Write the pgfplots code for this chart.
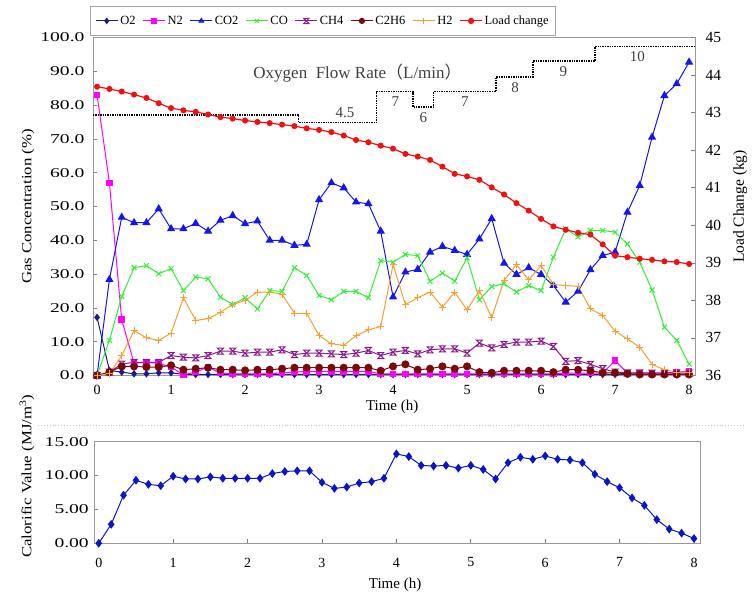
\documentclass[border=0pt]{standalone}
\usepackage{fontspec}
\setmainfont{Liberation Serif}
\newfontfamily\wideA[FakeStretch=1.45]{Liberation Serif}
\newfontfamily\wideB[FakeStretch=1.2]{Liberation Serif}
\newfontfamily\cjk{Noto Sans CJK SC}
\usepackage{pgfplots}
\usepackage{pgfplotstable}
\pgfplotsset{compat=1.18}

\pgfdeclareplotmark{hourglass}{%
 \pgfpathmoveto{\pgfqpoint{-\pgfplotmarksize}{\pgfplotmarksize}}%
 \pgfpathlineto{\pgfqpoint{\pgfplotmarksize}{\pgfplotmarksize}}%
 \pgfpathlineto{\pgfqpoint{-\pgfplotmarksize}{-\pgfplotmarksize}}%
 \pgfpathlineto{\pgfqpoint{\pgfplotmarksize}{-\pgfplotmarksize}}%
 \pgfpathclose
 \pgfusepathqstroke}

\definecolor{cO2}{HTML}{1A1A8C}
\definecolor{cN2}{HTML}{FF00FF}
\definecolor{cCO2}{HTML}{1515F0}
\definecolor{cCO}{HTML}{33EE33}
\definecolor{cCH4}{HTML}{8B1A8B}
\definecolor{cC2H6}{HTML}{7A0A0A}
\definecolor{cH2}{HTML}{F5A030}
\definecolor{cLoad}{HTML}{F01010}
\definecolor{cCal}{HTML}{0A14C8}

\pgfplotsset{
 sO2/.style={cO2, line width=1pt, mark=diamond*, mark size=3pt},
 sN2/.style={cN2, line width=1pt, mark=square*, mark size=2.8pt},
 sCO2/.style={cCO2, line width=1pt, mark=triangle*, mark size=3.8pt},
 sCO/.style={cCO, line width=1pt, mark=x, mark size=3.5pt},
 sCH4/.style={cCH4, line width=1pt, mark=hourglass, mark size=3pt},
 sC2H6/.style={cC2H6, line width=1pt, mark=*, mark size=3.5pt},
 sH2/.style={cH2, line width=1pt, mark=+, mark size=3.5pt},
 sLoad/.style={cLoad, line width=1.2pt, mark=*, mark size=2.4pt},
}

\pgfplotstableread{
t O2 N2 CO2 CO CH4 C2H6 H2 Load
0.000 17.2 83.0 0.0 0.0 0.0 0.0 0.0 43.69
0.167 1.5 57.0 28.4 10.4 1.0 1.0 0.5 43.63
0.333 1.0 16.5 46.8 23.4 3.4 2.7 5.9 43.56
0.500 0.5 3.6 45.2 31.9 3.9 2.7 13.3 43.48
0.667 0.5 3.9 45.2 32.5 3.9 2.5 11.1 43.39
0.833 0.8 3.6 49.3 30.1 3.9 2.5 10.4 43.25
1.000 0.8 2.5 43.4 31.6 5.9 3.0 12.5 43.12
1.167 0.3 0.2 43.4 25.1 5.4 1.7 23.0 43.06
1.333 0.3 1.0 45.0 29.1 5.2 2.0 16.3 43.02
1.500 0.3 2.5 42.7 28.6 5.9 2.3 16.8 42.95
1.667 0.3 0.7 45.9 23.2 7.2 1.7 18.7 42.88
1.833 0.3 0.5 47.3 21.0 7.2 1.7 21.0 42.84
2.000 0.3 0.5 44.9 23.0 6.6 1.5 22.2 42.79
2.167 0.3 0.5 45.7 19.7 6.9 1.7 24.7 42.75
2.333 0.3 0.5 40.0 25.1 6.9 1.7 24.7 42.72
2.500 0.3 0.8 40.0 24.9 7.6 2.0 24.0 42.68
2.667 0.3 1.0 38.5 31.9 6.2 2.3 18.4 42.64
2.833 0.3 1.2 38.8 29.6 6.6 2.3 18.4 42.58
3.000 0.3 1.2 52.0 23.7 6.6 2.3 11.8 42.54
3.167 0.3 1.2 57.0 22.4 6.4 2.3 9.4 42.48
3.333 0.3 1.2 55.5 24.9 6.2 2.3 8.9 42.39
3.500 0.3 1.2 51.3 24.9 6.6 2.3 11.8 42.27
3.667 0.3 1.2 50.8 23.0 7.4 2.3 13.5 42.21
3.833 0.3 0.5 42.7 34.0 5.9 1.4 14.5 42.12
4.000 0.3 0.5 23.2 33.5 6.9 2.7 32.8 42.04
4.167 0.3 0.5 30.6 35.8 7.4 3.3 21.0 41.90
4.333 0.3 0.5 31.4 35.5 6.4 1.7 23.0 41.83
4.500 0.3 0.5 36.5 27.9 7.6 2.0 24.7 41.74
4.667 0.3 0.5 38.2 30.3 7.9 2.7 20.2 41.56
4.833 0.3 0.5 37.0 27.9 7.9 2.0 24.7 41.37
5.000 0.3 0.5 35.8 34.8 6.6 2.7 19.4 41.30
5.167 0.3 0.5 40.4 22.4 9.6 1.0 25.1 41.21
5.333 0.3 0.5 46.4 26.3 8.2 0.8 17.1 41.01
5.500 0.3 0.5 33.2 27.1 9.2 1.4 28.1 40.82
5.667 0.3 0.5 29.9 24.7 9.9 1.4 32.8 40.59
5.833 0.3 0.5 31.9 26.6 9.9 1.4 28.3 40.39
6.000 0.3 0.5 29.9 25.1 10.2 1.4 32.5 40.17
6.167 0.3 0.5 26.6 35.0 8.6 1.0 26.9 39.97
6.333 0.3 0.7 21.7 43.4 4.2 1.7 26.6 39.88
6.500 0.3 0.7 24.9 41.0 4.4 1.7 26.4 39.80
6.667 0.3 0.7 31.3 42.9 3.3 1.4 19.7 39.75
6.833 0.3 0.7 35.5 42.9 2.0 0.8 17.8 39.49
7.000 0.3 4.4 36.5 42.4 1.0 0.8 13.1 39.19
7.167 0.3 0.7 48.3 38.9 0.8 0.5 10.8 39.15
7.333 0.3 0.7 56.2 33.5 0.8 0.3 8.4 39.11
7.500 0.3 0.7 70.5 25.3 0.7 0.3 3.3 39.08
7.667 0.3 0.8 82.8 14.3 0.7 0.3 1.7 39.04
7.833 0.3 1.0 86.3 10.4 0.7 0.3 1.0 39.02
8.000 0.3 1.3 92.7 3.4 0.7 0.3 1.0 38.97
}\gasdata

\pgfplotstableread{
t Cal
0.000 0.0
0.167 2.8
0.333 7.1
0.500 9.3
0.667 8.7
0.833 8.5
1.000 9.9
1.167 9.5
1.333 9.5
1.500 9.8
1.667 9.6
1.833 9.6
2.000 9.6
2.167 9.6
2.333 10.3
2.500 10.6
2.667 10.7
2.833 10.7
3.000 9.0
3.167 8.1
3.333 8.3
3.500 8.9
3.667 9.1
3.833 9.6
4.000 13.2
4.167 12.8
4.333 11.5
4.500 11.4
4.667 11.5
4.833 11.1
5.000 11.5
5.167 10.9
5.333 9.5
5.500 11.9
5.667 12.7
5.833 12.4
6.000 12.9
6.167 12.4
6.333 12.3
6.500 11.9
6.667 10.2
6.833 9.1
7.000 8.2
7.167 6.7
7.333 5.6
7.500 3.5
7.667 2.1
7.833 1.5
8.000 0.7
}\caldata

\pgfplotstableread{
t flow
-0.055 77.1
2.72 77.1
2.72 74.9
3.78 74.9
3.78 84.0
4.27 84.0
4.27 79.4
4.55 79.4
4.55 84.0
5.39 84.0
5.39 88.3
5.89 88.3
5.89 93.0
6.73 93.0
6.73 97.4
8.08 97.4
}\flowdata

\begin{document}
\begin{tikzpicture}
\useasboundingbox (0pt,0pt) rectangle (753pt,596pt);

% ---------- top: gas concentrations ----------
\begin{axis}[
 at={(93pt,220.5pt)}, anchor=south west, scale only axis,
 width=602pt, height=338pt,
 xmin=-0.055, xmax=8.08, ymin=0, ymax=100,
 xtick={0,1,...,8}, ytick={0,10,...,100},
 ytick pos=left, xtick pos=bottom,
 clip=false,
 axis line style={gray!80, line width=0.8pt},
 tick style={gray, line width=0.6pt}, major tick length=4pt,
 /pgf/number format/assume math mode=true,
 yticklabel style={/pgf/number format/fixed, /pgf/number format/fixed zerofill,
   /pgf/number format/precision=1, font=\wideA\fontsize{13.5}{15}\selectfont, xshift=-5pt},
 xticklabel style={font=\fontsize{14}{16}\selectfont, yshift=-6pt},
 xlabel={Time (h)},
 xlabel style={font=\fontsize{15}{17}\selectfont, at={(axis description cs:0.497,-0.093)}, anchor=center},
 ylabel={Gas Concentration (\%)},
 ylabel style={font=\wideB\fontsize{14}{16}\selectfont, at={(axis description cs:-0.108,0.5)}, anchor=center, rotate=0},
]
\addplot[sO2] table[x=t, y=O2] {\gasdata};
\addplot[sN2] table[x=t, y=N2] {\gasdata};
\addplot[sCO2] table[x=t, y=CO2] {\gasdata};
\addplot[sCO] table[x=t, y=CO] {\gasdata};
\addplot[sCH4] table[x=t, y=CH4] {\gasdata};
\addplot[sC2H6] table[x=t, y=C2H6] {\gasdata};
\addplot[sH2] table[x=t, y=H2] {\gasdata};
\addplot[black, densely dotted, line width=1.4pt, mark=none] table[x=t, y=flow] {\flowdata};
\begin{scope}[every node/.style={font=\fontsize{15}{17}\selectfont, text=black!75}]
\node at (axis cs:3.35,77.9) {4.5};
\node at (axis cs:4.03,80.9) {7};
\node at (axis cs:4.41,76.2) {6};
\node at (axis cs:4.97,80.9) {7};
\node at (axis cs:5.65,85.3) {8};
\node at (axis cs:6.30,90.0) {9};
\node at (axis cs:7.30,94.4) {10};
\node[font=\fontsize{17}{19}\selectfont] at (axis cs:3.52,89.4) {Oxygen\ \ Flow Rate{\cjk （}L/min{\cjk ）}};
\end{scope}
\end{axis}

% ---------- top: load change on right axis ----------
\begin{axis}[
 at={(93pt,220.5pt)}, anchor=south west, scale only axis,
 width=602pt, height=338pt,
 xmin=-0.055, xmax=8.08, ymin=36, ymax=45,
 ytick={36,37,...,45},
 axis x line=none, axis y line*=right,
 clip=false,
 axis line style={gray!80, line width=0.8pt},
 tick style={gray, line width=0.6pt}, major tick length=4pt,
 /pgf/number format/assume math mode=true,
 yticklabel style={font=\fontsize{15.5}{17}\selectfont, xshift=7pt},
 ylabel={Load Change (kg)},
 ylabel style={font=\fontsize{15.5}{17}\selectfont, at={(axis description cs:1.075,0.5)}, anchor=center, rotate=0},
 legend columns=-1,
 legend style={at={(axis description cs:-0.005,1.005)}, anchor=south west,
   draw=gray!70, line width=0.6pt, font=\fontsize{12.5}{14}\selectfont,
   inner xsep=5pt, inner ysep=7.5pt,
   /tikz/every even column/.append style={column sep=5pt}},
 legend image code/.code={\draw[mark repeat=2, mark phase=2, line width=1pt, mark size=2.6pt] plot coordinates {(0pt,0pt) (11pt,0pt) (22pt,0pt)};},
]
\addlegendimage{sO2}\addlegendentry{O2}
\addlegendimage{sN2}\addlegendentry{N2}
\addlegendimage{sCO2}\addlegendentry{CO2}
\addlegendimage{sCO}\addlegendentry{CO}
\addlegendimage{sCH4}\addlegendentry{CH4}
\addlegendimage{sC2H6}\addlegendentry{C2H6}
\addlegendimage{sH2}\addlegendentry{H2}
\addplot[sLoad] table[x=t, y=Load] {\gasdata};
\addlegendentry{Load change}
\end{axis}

% separator
\draw[gray!45, dotted, line width=0.9pt] (38pt,171pt) -- (743pt,171pt);

% ---------- bottom: calorific value ----------
\begin{axis}[
 at={(94.3pt,52.7pt)}, anchor=south west, scale only axis,
 width=606.4pt, height=101.6pt,
 xmin=-0.06, xmax=8.09, ymin=0, ymax=15,
 xtick={0,1,...,8}, ytick={0,5,10,15},
 ytick pos=left, xtick pos=bottom,
 clip=false,
 axis line style={gray!80, line width=0.8pt},
 tick style={gray, line width=0.6pt}, major tick length=4pt,
 /pgf/number format/assume math mode=true,
 yticklabel style={/pgf/number format/fixed, /pgf/number format/fixed zerofill,
   /pgf/number format/precision=2, font=\wideA\fontsize{13.5}{15}\selectfont, xshift=-2pt},
 xticklabel style={font=\fontsize{14}{16}\selectfont, yshift=-11pt},
 xlabel={Time (h)},
 xlabel style={font=\fontsize{15}{17}\selectfont, at={(axis description cs:0.496,-0.41)}, anchor=center},
 ylabel={Calorific Value (MJ/m\textsuperscript{3})},
 ylabel style={font=\wideB\fontsize{14}{16}\selectfont, at={(axis description cs:-0.111,0.66)}, anchor=center, rotate=0},
]
\addplot[cCal, line width=1pt, mark=diamond*, mark size=3.6pt] table[x=t, y=Cal] {\caldata};
\end{axis}
\end{tikzpicture}
\end{document}
